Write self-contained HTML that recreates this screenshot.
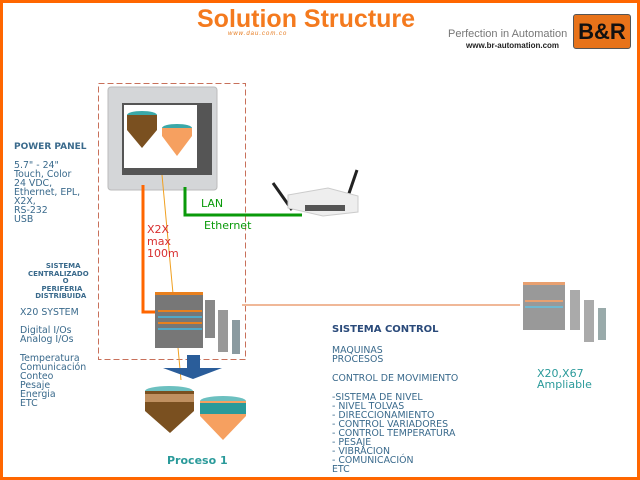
<!DOCTYPE html>
<html><head><meta charset="utf-8"><style>
body{margin:0;width:640px;height:480px;overflow:hidden;background:#fff;font-family:"DejaVu Sans","Liberation Sans",sans-serif;}
.f{position:absolute;left:0;top:0;width:634px;height:474px;border:3px solid #ff6600;}
.t{position:absolute;white-space:pre;color:#3a6a8c;font-size:9.4px;line-height:9px;}
</style></head><body>
<div class="f"></div>
<div style="position:absolute;left:197px;top:5px;font:bold 25px 'Liberation Sans',sans-serif;color:#f47a1e;">Solution Structure</div>
<div style="position:absolute;left:228px;top:31px;font:italic 6px 'Liberation Sans',sans-serif;color:#e67a1e;letter-spacing:1px;">www.dau.com.co</div>
<div style="position:absolute;left:448px;top:28px;font:11px 'Liberation Sans',sans-serif;color:#777;">Perfection in Automation</div>
<div style="position:absolute;left:466px;top:41px;font:bold 8px 'Liberation Sans',sans-serif;color:#222;">www.br-automation.com</div>
<div style="position:absolute;left:573px;top:14px;width:56px;height:33px;background:#e8731a;border:1px solid #555;border-radius:3px;font:bold 22px 'Liberation Sans',sans-serif;color:#111;text-align:center;line-height:33px;">B&amp;R</div>

<svg style="position:absolute;left:0;top:0" width="640" height="480">
<rect x="98.5" y="83.5" width="147" height="276" fill="none" stroke="#c8705a" stroke-dasharray="6,3"/>
<line x1="242" y1="305" x2="520" y2="305" stroke="#f0b898" stroke-width="2"/>
<rect x="108" y="87" width="109" height="103" rx="3" fill="#d4d6d8" stroke="#bbb"/>
<rect x="122" y="103" width="90" height="72" fill="#555"/>
<rect x="124" y="105" width="73" height="63" fill="#fff"/>
<ellipse cx="142" cy="115" rx="15" ry="4" fill="#3aa8a8"/>
<path d="M127 115h30v15l-15 18l-15-18z" fill="#7a5020"/>
<ellipse cx="177" cy="128" rx="15" ry="4" fill="#3aa8a8"/>
<path d="M162 128h30v8l-15 20l-15-20z" fill="#f6a060"/>
<polyline points="143,185 143,312 156,312" fill="none" stroke="#ff6600" stroke-width="3"/>
<polyline points="185,187 185,215 302,215" fill="none" stroke="#0a9a0a" stroke-width="3"/>
<line x1="162" y1="175" x2="181" y2="380" stroke="#f0a020" stroke-width="1"/>
<line x1="273" y1="183" x2="292" y2="210" stroke="#222" stroke-width="3"/>
<line x1="357" y1="170" x2="345" y2="205" stroke="#222" stroke-width="3"/>
<path d="M288 195l40-7l30 8v16l-35 4l-35-8z" fill="#eee" stroke="#ccc"/>
<rect x="305" y="205" width="40" height="6" fill="#555"/>
<rect x="155" y="292" width="48" height="56" fill="#777"/>
<g fill="#e8801e"><rect x="155" y="292" width="48" height="3"/><rect x="158" y="310" width="44" height="2"/><rect x="158" y="322" width="44" height="2"/></g>
<g fill="#50a8c8"><rect x="158" y="316" width="44" height="2"/><rect x="158" y="328" width="44" height="2"/></g>
<rect x="205" y="300" width="10" height="38" fill="#888"/>
<rect x="218" y="310" width="10" height="42" fill="#999"/>
<rect x="232" y="320" width="8" height="34" fill="#8a9aa0"/>
<rect x="523" y="282" width="42" height="48" fill="#999"/>
<rect x="523" y="282" width="42" height="3" fill="#e8a070"/>
<rect x="525" y="300" width="38" height="2" fill="#e8a070"/><rect x="525" y="306" width="38" height="2" fill="#70b8d0"/>
<rect x="570" y="290" width="10" height="40" fill="#aaa"/>
<rect x="584" y="300" width="10" height="42" fill="#aaa"/>
<rect x="598" y="308" width="8" height="32" fill="#9aa"/>
<path d="M187 355h13v13h22l-29 11l-30-11h24z" fill="#2a5d9a"/>
<ellipse cx="169" cy="391" rx="24" ry="5" fill="#6cc0c0"/>
<path d="M145 391h49v20l-24 22l-25-22z" fill="#7a5020"/>
<rect x="145" y="394" width="49" height="8" fill="#c09060"/>
<ellipse cx="223" cy="401" rx="23" ry="5" fill="#6cc0c0"/>
<path d="M200 401h46v15l-23 24l-23-24z" fill="#f6a060"/>
<rect x="200" y="403" width="46" height="11" fill="#2a9a9a"/>
</svg>

<div class="t" style="left:14px;top:143px;font-weight:bold;font-size:9px;">POWER PANEL</div>
<div class="t" style="left:14px;top:161px;">5.7" - 24"
Touch, Color
24 VDC,
Ethernet, EPL,
X2X,
RS-232
USB</div>
<div class="t" style="left:28px;top:263px;font-weight:bold;font-size:7px;line-height:7.5px;text-align:center;">    SISTEMA
CENTRALIZADO
      O
   PERIFERIA
  DISTRIBUIDA</div>
<div class="t" style="left:20px;top:308px;">X20 SYSTEM</div>
<div class="t" style="left:20px;top:326px;">Digital I/Os
Analog I/Os</div>
<div class="t" style="left:20px;top:354px;">Temperatura
Comunicación
Conteo
Pesaje
Energia
ETC</div>
<div class="t" style="left:147px;top:224px;color:#d83030;font-size:11px;line-height:12px;">X2X
max
100m</div>
<div class="t" style="left:201px;top:199px;color:#0a9a0a;font-size:11px;">LAN</div>
<div class="t" style="left:204px;top:221px;color:#0a9a0a;font-size:11px;">Ethernet</div>
<div class="t" style="left:332px;top:325px;font-weight:bold;font-size:10px;color:#2a4a7a;">SISTEMA CONTROL</div>
<div class="t" style="left:332px;top:346px;">MAQUINAS
PROCESOS</div>
<div class="t" style="left:332px;top:374px;">CONTROL DE MOVIMIENTO</div>
<div class="t" style="left:332px;top:393px;">-SISTEMA DE NIVEL
- NIVEL TOLVAS
- DIRECCIONAMIENTO
- CONTROL VARIADORES
- CONTROL TEMPERATURA
- PESAJE
- VIBRACION
- COMUNICACIÓN
ETC</div>
<div class="t" style="left:537px;top:368px;color:#2a9a9a;font-size:11px;line-height:11px;">X20,X67
Ampliable</div>
<div class="t" style="left:167px;top:456px;color:#2a9a9a;font-weight:bold;font-size:11px;">Proceso 1</div>
</body></html>
